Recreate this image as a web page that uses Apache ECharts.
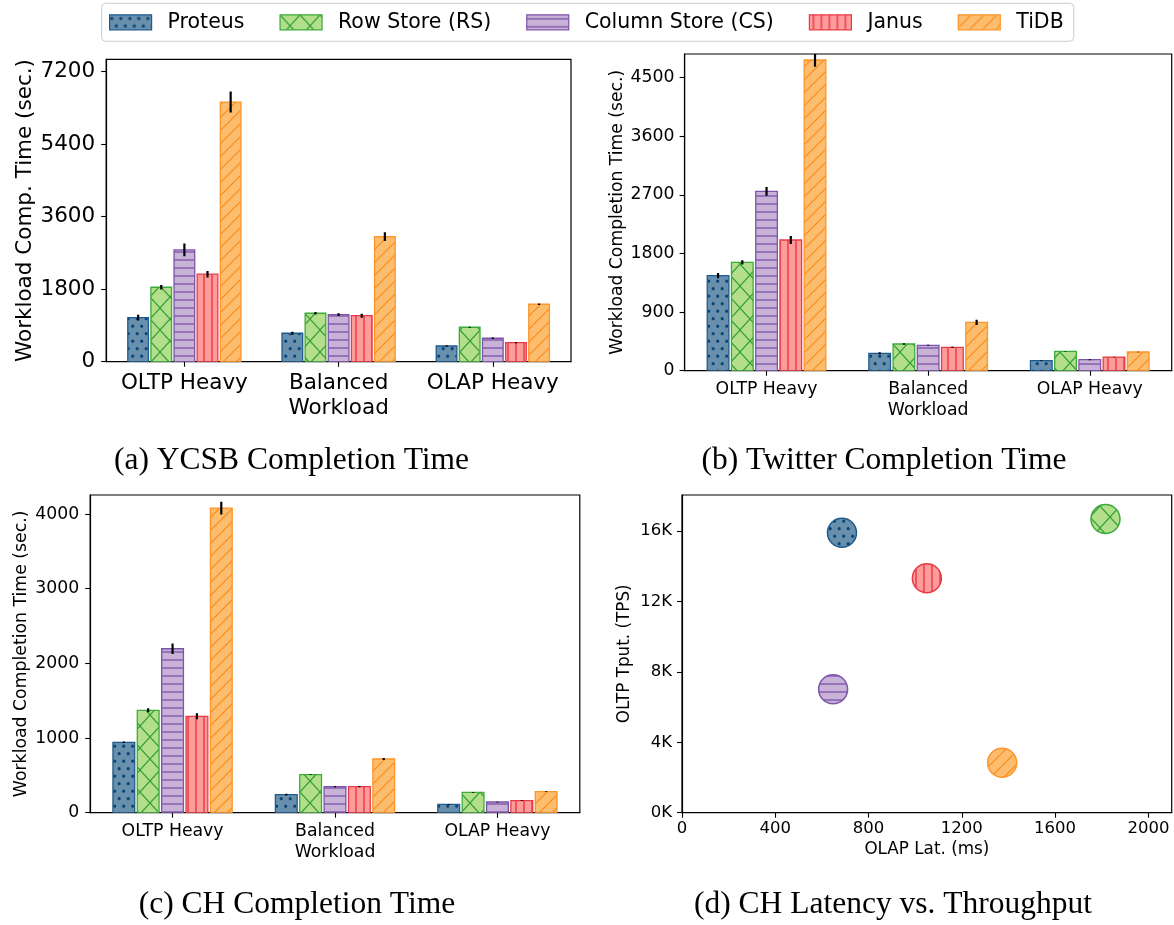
<!DOCTYPE html>
<html>
<head>
<meta charset="utf-8">
<title>Workload completion time and CH latency vs. throughput</title>
<script src="https://cdn.jsdelivr.net/npm/echarts@6/dist/echarts.min.js"></script>
<style>
  html, body { margin: 0; padding: 0; background: #fff; }
  #chart { width: 1174px; height: 925px; }
</style>
</head>
<body>
<div id="chart"></div>
<script>
// ---- data -------------------------------------------------------------
const categories = ['OLTP Heavy', 'Balanced\nWorkload', 'OLAP Heavy'];
const systems = ['Proteus', 'Row Store (RS)', 'Column Store (CS)', 'Janus', 'TiDB'];

// completion time (sec.) per system, per workload mix: [OLTP, Balanced, OLAP]
const ycsbTime = [[1092, 705, 390], [1847, 1202, 854], [2773, 1167, 581], [2170, 1142, 472], [6440, 3103, 1425]];
const ycsbErr = [[70, 37, 17], [54, 32, 12], [157, 32, 17], [79, 50, 17], [261, 108, 17]];
const twitterTime = [[1459, 267, 154], [1665, 410, 298], [2755, 390, 169], [2007, 359, 210], [4772, 743, 287]];
const twitterErr = [[41, 15, 5], [33, 10, 5], [67, 8, 8], [61, 10, 5], [103, 41, 5]];
const chTime = [[943, 241, 112], [1371, 509, 273], [2196, 348, 143], [1291, 348, 161], [4080, 719, 281]];
const chErr = [[10, 12, 5], [27, 5, 5], [71, 8, 5], [40, 8, 5], [85, 12, 5]];

// CH: OLAP latency (ms) and OLTP throughput (TPS) per system
const chLatency = [686, 1816, 648, 1050, 1373];
const chThroughput = [15903, 16682, 7009, 13313, 2840];

// tick values
const categoryTicks = [0, 1, 2];
const ycsbTicks = [0, 1800, 3600, 5400, 7200];
const twitterTicks = [0, 900, 1800, 2700, 3600, 4500];
const chTicks = [0, 1000, 2000, 3000, 4000];
const latencyTicks = [0, 400, 800, 1200, 1600, 2000];
const throughputTicks = [0, 4000, 8000, 12000, 16000];

const panelTitles = ['(a) YCSB Completion Time', '(b) Twitter Completion Time',
                     '(c) CH Completion Time', '(d) CH Latency vs. Throughput'];

// ---- styling ------------------------------------------------------------
const FONT = 'DejaVu Sans';
const SERIF = 'Liberation Serif';
const looks = [
  { fill: '#6890ad', hatch: '#0b4578', edge: '#1f5b8e', kind: 'dots' },
  { fill: '#b3df8d', hatch: '#35a135', edge: '#3cab3c', kind: 'cross' },
  { fill: '#c8b2d8', hatch: '#7248a0', edge: '#7d55aa', kind: 'hline' },
  { fill: '#fe9c9c', hatch: '#e52832', edge: '#e83a44', kind: 'vline' },
  { fill: '#fdbd6e', hatch: '#fb8a17', edge: '#fd9529', kind: 'diag' }
];

function makePattern(look) {
  const c = document.createElement('canvas');
  let w = 8, h = 8;
  if (look.kind === 'dots') { w = 9; h = 15; }
  if (look.kind === 'cross') { w = 20; h = 22; }
  if (look.kind === 'diag') { w = 13; h = 13; }
  c.width = w; c.height = h;
  const g = c.getContext('2d');
  g.fillStyle = look.fill;
  g.fillRect(0, 0, w, h);
  g.strokeStyle = look.hatch;
  g.fillStyle = look.hatch;
  g.lineWidth = 1.2;
  g.beginPath();
  if (look.kind === 'dots') {
    [[2.2, 3.7], [6.7, 11.2]].forEach(function (p) {
      g.moveTo(p[0] + 1.6, p[1]);
      g.arc(p[0], p[1], 1.6, 0, Math.PI * 2);
    });
    g.fill();
    return { image: c, repeat: 'repeat' };
  }
  if (look.kind === 'cross') {
    for (let k = -1; k <= 1; k++) {
      g.moveTo(k * w, 0); g.lineTo(k * w + w, h);
      g.moveTo(k * w + w, 0); g.lineTo(k * w, h);
    }
  } else if (look.kind === 'hline') {
    g.moveTo(0, h / 2); g.lineTo(w, h / 2);
  } else if (look.kind === 'vline') {
    g.moveTo(w / 2, 0); g.lineTo(w / 2, h);
  } else if (look.kind === 'diag') {
    for (let k = -1; k <= 1; k++) {
      g.moveTo(k * w, h); g.lineTo(k * w + w, 0);
    }
  }
  g.stroke();
  return { image: c, repeat: 'repeat' };
}
const patterns = looks.map(makePattern);

// ---- panel geometry -----------------------------------------------------
const grids = [
  { left: 106.2, top: 59.3, width: 464.8, height: 302.4 },
  { left: 684.6, top: 54, width: 487.1, height: 316.7 },
  { left: 90.2, top: 495, width: 489.6, height: 317.7 },
  { left: 682, top: 495, width: 489.7, height: 317.7 }
].map(function (g) {
  return Object.assign({ show: true, borderColor: '#000', borderWidth: 1.2,
    containLabel: false, outerBoundsMode: 'none' }, g);
});

const BAR_SLOT = 0.15;
const BAR_FILL = 0.134;
const MARKER_R = 14.5;

function barRenderer(s) {
  return function (params, api) {
    const c = api.value(0), v = api.value(1), e = api.value(2);
    const mid = c + (s - 2) * BAR_SLOT;
    const tl = api.coord([mid - BAR_FILL / 2, v]);
    const br = api.coord([mid + BAR_FILL / 2, 0]);
    const top = api.coord([mid, v + e]);
    const bot = api.coord([mid, Math.max(0, v - e)]);
    return {
      type: 'group',
      children: [
        { type: 'rect',
          shape: { x: tl[0], y: tl[1], width: br[0] - tl[0], height: br[1] - tl[1] },
          style: { fill: patterns[s], stroke: looks[s].edge, lineWidth: 1.3 } },
        { type: 'line',
          shape: { x1: top[0], y1: top[1], x2: bot[0], y2: bot[1] },
          style: { stroke: '#000', lineWidth: 2.2 } }
      ]
    };
  };
}

function markerRenderer(s) {
  return function (params, api) {
    const p = api.coord([api.value(0), api.value(1)]);
    return {
      type: 'circle',
      shape: { cx: p[0], cy: p[1], r: MARKER_R },
      style: { fill: patterns[s], stroke: looks[s].edge, lineWidth: 1.5 }
    };
  };
}

function barSeries(times, errs, gridIdx) {
  return systems.map(function (name, s) {
    return {
      type: 'custom',
      name: name,
      xAxisIndex: gridIdx,
      yAxisIndex: gridIdx,
      clip: true,
      renderItem: barRenderer(s),
      itemStyle: { color: patterns[s], borderColor: looks[s].edge, borderWidth: 1.3 },
      encode: { x: 0, y: 1 },
      data: times[s].map(function (v, i) { return [categoryTicks[i], v, errs[s][i]]; })
    };
  });
}

function catAxis(gridIdx, fontSize, lineHeight, margin) {
  return {
    type: 'value', gridIndex: gridIdx, min: -0.507, max: 2.507,
    splitLine: { show: false },
    axisLine: { show: true, onZero: false, lineStyle: { color: '#000', width: 1.2 } },
    axisTick: { show: true, customValues: categoryTicks, length: 5, lineStyle: { color: '#000', width: 1.1 } },
    axisLabel: {
      customValues: categoryTicks, margin: margin,
      fontFamily: FONT, fontSize: fontSize, lineHeight: lineHeight, color: '#000',
      formatter: function (v) { return categories[Math.round(v)]; }
    }
  };
}

function valAxis(gridIdx, max, ticks, fontSize, name, nameSize, nameGap, margin, fmt) {
  return {
    type: 'value', gridIndex: gridIdx, min: 0, max: max,
    splitLine: { show: false },
    axisLine: { show: true, onZero: false, lineStyle: { color: '#000', width: 1.2 } },
    axisTick: { show: true, customValues: ticks, length: 5, lineStyle: { color: '#000', width: 1.1 } },
    axisLabel: { customValues: ticks, margin: margin, fontFamily: FONT, fontSize: fontSize, color: '#000',
      formatter: fmt || function (v) { return String(v); } },
    name: name, nameLocation: 'middle', nameGap: nameGap,
    nameTextStyle: { fontFamily: FONT, fontSize: nameSize, color: '#000' }
  };
}

const kFmt = function (v) { return (v / 1000) + 'K'; };

const xAxes = [
  catAxis(0, 21.5, 25, 9),
  catAxis(1, 17.3, 21, 8),
  catAxis(2, 17.3, 21, 8),
  valAxis(3, 2100, latencyTicks, 16.5, 'OLAP Lat. (ms)', 16.8, 28, 8)
];
const yAxes = [
  valAxis(0, 7500, ycsbTicks, 21.5, 'Workload Comp. Time (sec.)', 21.5, 70, 11),
  valAxis(1, 4864, twitterTicks, 17.3, 'Workload Completion Time (sec.)', 17.2, 59, 10),
  valAxis(2, 4255, chTicks, 17.3, 'Workload Completion Time (sec.)', 17.3, 60, 11),
  valAxis(3, 18045, throughputTicks, 16.5, 'OLTP Tput. (TPS)', 16.8, 49, 10, kFmt)
];

const scatterSeries = systems.map(function (name, s) {
  return {
    type: 'custom', name: name, xAxisIndex: 3, yAxisIndex: 3,
    renderItem: markerRenderer(s),
    itemStyle: { color: patterns[s], borderColor: looks[s].edge, borderWidth: 1.5 },
    encode: { x: 0, y: 1 },
    data: [[chLatency[s], chThroughput[s]]]
  };
});

const titlePos = [[291.5, 461], [884, 461], [297, 905], [893, 905]];
const titleText = panelTitles.map(function (t, i) {
  return {
    type: 'text', x: titlePos[i][0], y: titlePos[i][1], silent: true,
    style: { text: t, x: 0, y: 0, align: 'center', verticalAlign: 'middle',
      font: '31.5px "' + SERIF + '"', fill: '#000' }
  };
});

const chart = echarts.init(document.getElementById('chart'), null, { renderer: 'canvas' });
chart.setOption({
  animation: false,
  backgroundColor: '#fff',
  grid: grids,
  xAxis: xAxes,
  yAxis: yAxes,
  legend: {
    data: systems.map(function (n, s) {
      return { name: n, icon: 'rect',
        itemStyle: { color: patterns[s], borderColor: looks[s].edge, borderWidth: 1.2 } };
    }),
    left: 101.7, top: 3.3,
    padding: [7.5, 10, 7.5, 7.3],
    itemWidth: 42, itemHeight: 15, itemGap: 35,
    backgroundColor: '#fff', borderColor: '#cccccc', borderWidth: 1, borderRadius: 4,
    selectedMode: false,
    textStyle: { fontFamily: FONT, fontSize: 20.5, color: '#000', padding: [0, 0, 0, 11], lineHeight: 23 }
  },
  graphic: titleText,
  series: [].concat(
    barSeries(ycsbTime, ycsbErr, 0),
    barSeries(twitterTime, twitterErr, 1),
    barSeries(chTime, chErr, 2),
    scatterSeries
  )
});
</script>
</body>
</html>
